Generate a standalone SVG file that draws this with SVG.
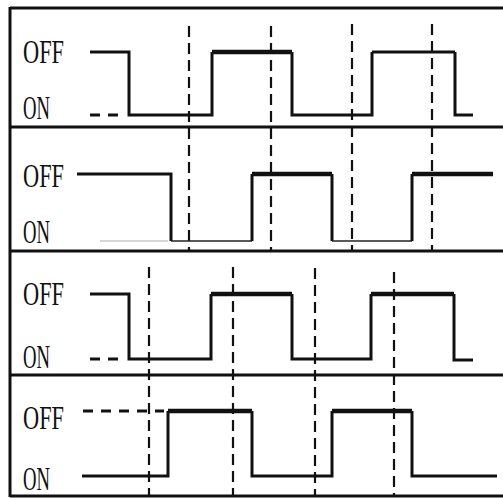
<svg xmlns="http://www.w3.org/2000/svg" width="503" height="498" viewBox="0 0 503 498">
<style>
.frame{stroke:#111;stroke-width:3;fill:none}
.lbl{font-family:"Liberation Serif","Times New Roman",serif;font-size:34px;fill:#111}
.w{stroke:#111;stroke-width:3;fill:none;stroke-linejoin:miter;stroke-linecap:butt}
.hi{stroke:#111;stroke-width:4.5;fill:none}
.thin{stroke:#222;stroke-width:1.6;fill:none}
.dsh{stroke:#111;stroke-width:3;fill:none;stroke-dasharray:10 8}
.guide{stroke:#111;stroke-width:2.2;fill:none;stroke-dasharray:11 6}
</style>
<rect width="503" height="498" fill="#fff"/>
<g id="frame">
<line class="frame" x1="10" y1="8" x2="503" y2="8"/>
<line class="frame" x1="10" y1="127" x2="503" y2="127"/>
<line class="frame" x1="10" y1="251" x2="503" y2="251"/>
<line class="frame" x1="10" y1="375" x2="503" y2="375"/>
<line class="frame" x1="10" y1="496" x2="503" y2="496"/>
<line class="frame" x1="10" y1="7" x2="10" y2="497"/>
</g>
<g id="connectors">
<line class="guide" x1="189" y1="26" x2="189" y2="251"/>
<line class="guide" x1="271" y1="26" x2="271" y2="251"/>
<line class="guide" x1="352" y1="24" x2="352" y2="251"/>
<line class="guide" x1="432" y1="24" x2="432" y2="251"/>
<line class="guide" x1="149" y1="267" x2="149" y2="496"/>
<line class="guide" x1="233" y1="267" x2="233" y2="496"/>
<line class="guide" x1="315" y1="268" x2="315" y2="496"/>
<line class="guide" x1="394" y1="272" x2="394" y2="496"/>
</g>
<g id="panel1">
<text class="lbl" x="23" y="63" textLength="41" lengthAdjust="spacingAndGlyphs">OFF</text>
<text class="lbl" x="23" y="119" textLength="27" lengthAdjust="spacingAndGlyphs">ON</text>
<line class="dsh" x1="90" y1="115" x2="124" y2="115"/>
<polyline class="w" points="90,52 129,52 129,115 212,115 212,52"/>
<line class="hi" x1="212" y1="52" x2="292" y2="52"/>
<polyline class="w" points="292,52 292,115 372,115 372,52"/>
<line class="w" x1="372" y1="52" x2="455" y2="52"/>
<polyline class="w" points="455,52 455,115 473,115"/>
</g>
<g id="panel2">
<text class="lbl" x="23" y="187" textLength="41" lengthAdjust="spacingAndGlyphs">OFF</text>
<text class="lbl" x="23" y="243" textLength="27" lengthAdjust="spacingAndGlyphs">ON</text>
<line stroke="#c8c8c8" stroke-width="1.5" x1="100" y1="241" x2="168" y2="241"/>
<polyline class="w" points="77,174 171,174 171,241"/>
<line class="thin" x1="171" y1="241" x2="252" y2="241"/>
<line class="w" x1="252" y1="241" x2="252" y2="174"/>
<line class="hi" stroke-width="5" x1="252" y1="174" x2="332" y2="174"/>
<line class="w" x1="332" y1="174" x2="332" y2="241"/>
<line class="thin" x1="332" y1="241" x2="412" y2="241"/>
<line class="w" x1="412" y1="241" x2="412" y2="174"/>
<line class="hi" stroke-width="5" x1="412" y1="174" x2="493" y2="174"/>
</g>
<g id="panel3">
<text class="lbl" x="23" y="305" textLength="41" lengthAdjust="spacingAndGlyphs">OFF</text>
<text class="lbl" x="23" y="368" textLength="27" lengthAdjust="spacingAndGlyphs">ON</text>
<line class="dsh" x1="90" y1="359" x2="124" y2="359"/>
<polyline class="w" points="90,294 129,294 129,359 211,359 211,294"/>
<line class="hi" x1="211" y1="294" x2="292" y2="294"/>
<polyline class="w" points="292,294 292,359 371,359 371,294"/>
<line class="hi" x1="371" y1="294" x2="454" y2="294"/>
<polyline class="w" points="454,294 454,360 473,360"/>
</g>
<g id="panel4">
<text class="lbl" x="23" y="429" textLength="41" lengthAdjust="spacingAndGlyphs">OFF</text>
<text class="lbl" x="23" y="490" textLength="27" lengthAdjust="spacingAndGlyphs">ON</text>
<line class="dsh" x1="83" y1="411" x2="164" y2="411"/>
<polyline class="w" points="82,476 168,476 168,411"/>
<line class="hi" x1="168" y1="411" x2="252" y2="411"/>
<polyline class="w" points="252,411 252,476 332,476 332,411"/>
<line class="hi" stroke-width="5" x1="332" y1="411" x2="412" y2="411"/>
<polyline class="w" points="412,411 412,476 497,476"/>
</g>
</svg>
